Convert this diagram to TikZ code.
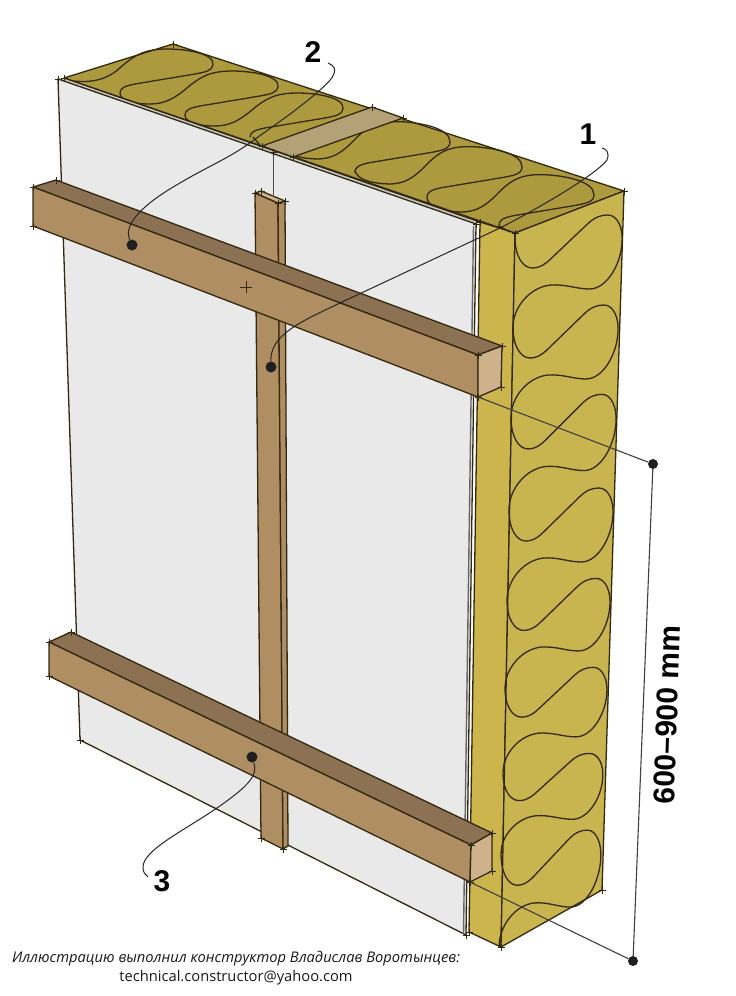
\documentclass[tikz,border=0pt]{standalone}
\usepackage{fontspec}
\setmainfont{Liberation Sans}
\newfontfamily\creditfont{Open Sans}
\definecolor{topwool}{HTML}{AD9A3E}
\definecolor{sidewool}{HTML}{C9B54F}
\definecolor{edgewool}{HTML}{CCB54C}
\definecolor{plank}{HTML}{B08E63}
\definecolor{planktop}{HTML}{8C7152}
\definecolor{plankend}{HTML}{CFB18C}
\definecolor{gapwood}{HTML}{B5A176}
\definecolor{sheet}{HTML}{E9E9E9}
\definecolor{sheetedge}{HTML}{C6C6C6}
\definecolor{outline}{HTML}{33290F}
\tikzset{
  face/.style={draw=outline, line width=1.3pt, line join=round},
  wave/.style={draw=outline, line width=1.3pt},
  leader/.style={draw=black!85, line width=1pt},
  dimline/.style={draw=black!75, line width=1.1pt},
  dot/.style={circle, fill=black!88, inner sep=0pt, minimum size=11pt},
  number/.style={font=\bfseries\fontsize{30}{30}\selectfont}
}
% one period of the wool wave, on the top and on the side
\newcommand\topmeander{(0,0) .. controls (0,7) and (12,11) .. (30,11) .. controls (45,11) and (55,5) .. (67,-5)
  .. controls (80,-16) and (90,-22) .. (112,-22) .. controls (130,-22) and (160,-18) .. (158,-6)
  .. controls (157,0) and (150,1) .. (140,3) -- (80,13) .. controls (70,15) and (65,17) .. (65,22)}
\newcommand\sidemeander{(0,0) .. controls (0,20) and (8,31) .. (17,31) .. controls (26,31) and (32,25) .. (38,19)
  -- (70,-12) .. controls (78,-20) and (84,-22) .. (91,-22) .. controls (101,-22) and (106,-8) .. (105,5)
  .. controls (104,27) and (90,52) .. (73,52) .. controls (60,52) and (50,47) .. (35,48)
  .. controls (15,50) and (-2,70) .. (-2,90)}

\begin{document}
\begin{tikzpicture}[x=1pt, y=-1pt]
  \useasboundingbox (0,0) rectangle (736,996);

  % corners of the wool
  \coordinate (woolback) at (173,44);
  \coordinate (woolright) at (624,191);
  \coordinate (woolfront) at (515,233);
  \coordinate (woolleft) at (64,78);
  \coordinate (wooledge) at (480,222);
  \coordinate (woolbotl) at (469,932);
  \coordinate (woolbot) at (501,947);
  \coordinate (woolbotr) at (602,890);

  % corners of the sheet
  \coordinate (sheettl) at (58,79);
  \coordinate (sheettr) at (476,224);
  \coordinate (sheetbr) at (466,935);
  \coordinate (sheetbl) at (80,740);

  % wool faces
  \draw[face, fill=topwool] (woolleft) -- (woolback) -- (woolright) -- (woolfront) -- cycle;
  \draw[face, fill=edgewool] (wooledge) -- (woolfront) -- (woolbot) -- (woolbotl) -- cycle;
  \draw[face, fill=sidewool] (woolfront) -- (woolright) -- (woolbotr) -- (woolbot) -- cycle;

  % wool waves on top
  \draw[wave] (66,80) .. controls (85,83) and (105,83) .. (122,66) .. controls (135,55) and (145,49) .. (167,49)
    .. controls (185,49) and (215,53) .. (213,65) .. controls (212,71) and (205,72) .. (195,74) -- (135,84)
    .. controls (125,86) and (120,88) .. (120,93);
  \foreach \px/\py in {120/93, 185/115}
    \draw[wave, shift={(\px,\py)}] \topmeander;
  \draw[wave] (253,137) -- (260,145);
  \foreach \px/\py in {283/145, 355/170, 427/198}
    \draw[wave, shift={(\px,\py)}, cm={1.062,-0.0264,-0.135,1.195,(0,0)}] \topmeander;
  \draw[wave] (499,226) -- (510,232);
  \draw[face, fill=gapwood] (262,146) -- (372,107) -- (403,118) -- (293,157) -- cycle;

  % wool waves on the side
  \draw[wave] (woolfront) -- (515,237);
  \foreach \px/\py/\sx/\sy in {515/237/1.02/1.0, 513/327/1/1, 511/417/1/1.03, 509/510/0.99/1,
      507/600/0.98/0.98, 505/688/0.97/0.94, 503/773/0.95/0.89, 501/853/0.95/1.04}
    \draw[wave, shift={(\px,\py)}, xscale=\sx, yscale=\sy] \sidemeander;

  % sheet with its joint
  \fill[sheetedge] (sheettl) -- (woolleft) -- (wooledge) -- (sheettr) -- cycle;
  \draw[face, fill=sheet] (sheettl) -- (sheettr) -- (sheetbr) -- (sheetbl) -- cycle;
  \draw[face] (woolleft) -- (wooledge);
  \draw[draw=black!60, line width=1.4pt] (473.5,226) -- (463.5,934);
  \draw[draw=black!70, line width=0.9pt] (273,152) -- (273,195);

  % upright batten
  \draw[face, fill=plank] (255,193) -- (278,203) -- (283,849) -- (261,838) -- cycle;
  \draw[face, fill=plank] (278,203) -- (285,201) -- (288,846) -- (283,849) -- cycle;
  \draw[face, fill=plankend] (255,193) -- (261,191) -- (285,201) -- (278,203) -- cycle;

  % upper rail
  \coordinate (railbot) at (478,397);
  \draw[face, fill=planktop] (33,187) -- (56,180) -- (502,346) -- (478,355) -- cycle;
  \draw[face, fill=plank] (33,187) -- (478,355) -- (railbot) -- (33,226) -- cycle;
  \draw[face, fill=plankend] (478,355) -- (502,346) -- (501,387) -- (railbot) -- cycle;

  % lower rail
  \coordinate (lowrailbot) at (470,882);
  \draw[face, fill=planktop] (49,642) -- (71,632) -- (492,833) -- (471,845) -- cycle;
  \draw[face, fill=plank] (49,642) -- (471,845) -- (lowrailbot) -- (49,676) -- cycle;
  \draw[face, fill=plankend] (471,845) -- (492,833) -- (492,871) -- (lowrailbot) -- cycle;

  % corner ticks
  \foreach \tx/\ty in {58/79, 64/78, 173/44, 624/191, 515/233, 480/222, 476/224, 262/146, 273/152, 293/157,
      372/107, 403/118, 255/193, 261/191, 278/203, 285/201, 33/187, 56/180, 33/226, 478/355, 502/346,
      501/387, 478/397, 49/642, 71/632, 49/676, 492/833, 471/845, 492/871, 470/882, 80/740, 261/838,
      283/849, 466/935, 469/932, 501/947, 602/890}
    \draw[outline, line width=0.6pt] (\tx-3.5,\ty) -- (\tx+3.5,\ty) (\tx,\ty-3.5) -- (\tx,\ty+3.5);
  \draw[outline, line width=0.8pt] (240,287) -- (252,287) (246,281) -- (246,293);

  % size
  \node[dot, minimum size=10pt] (dimtop) at (653,464) {};
  \node[dot, minimum size=10pt] (dimbot) at (633,961) {};
  \draw[dimline] (railbot) -- (dimtop);
  \draw[dimline] (lowrailbot) -- (dimbot);
  \draw[dimline] (dimtop) -- (dimbot);
  \node[rotate=88, font=\bfseries\fontsize{30}{30}\selectfont] (sizelabel) at (667,715) {600--900 mm};

  % numbered leaders
  \node[number] (num1) at (588,134) {1};
  \node[number] (num2) at (313,52) {2};
  \node[number] (num3) at (162,881) {3};
  \node[dot] (dot1) at (271,367) {};
  \node[dot] (dot2) at (132,245) {};
  \node[dot] (dot3) at (252,757) {};
  \coordinate (end1) at (602,148);
  \coordinate (end2) at (328,63);
  \coordinate (end3) at (148,877);
  \draw[leader] (dot1) .. controls (270,335) and (300,322) .. (340,303) -- (500,228)
    .. controls (560,197) and (600,170) .. (607,160) .. controls (610,152) and (606,149) .. (end1);
  \draw[leader] (dot2) .. controls (122,222) and (150,200) .. (180,183) .. controls (205,168) and (225,160) .. (247,145)
    .. controls (270,128) and (295,112) .. (320,90) .. controls (335,77) and (340,68) .. (end2);
  \draw[leader] (dot3) .. controls (258,775) and (250,785) .. (217,808)
    .. controls (185,830) and (143,850) .. (143,867) .. controls (143,872) and (145,875) .. (end3);

  % credit
  \node[font=\creditfont\itshape\fontsize{14.7}{19}\selectfont, align=center, text=black!90] (credit) at (236,968)
    {Иллюстрацию выполнил конструктор Владислав Воротынцев:\\ {\upshape technical.constructor@yahoo.com}};
\end{tikzpicture}
\end{document}
